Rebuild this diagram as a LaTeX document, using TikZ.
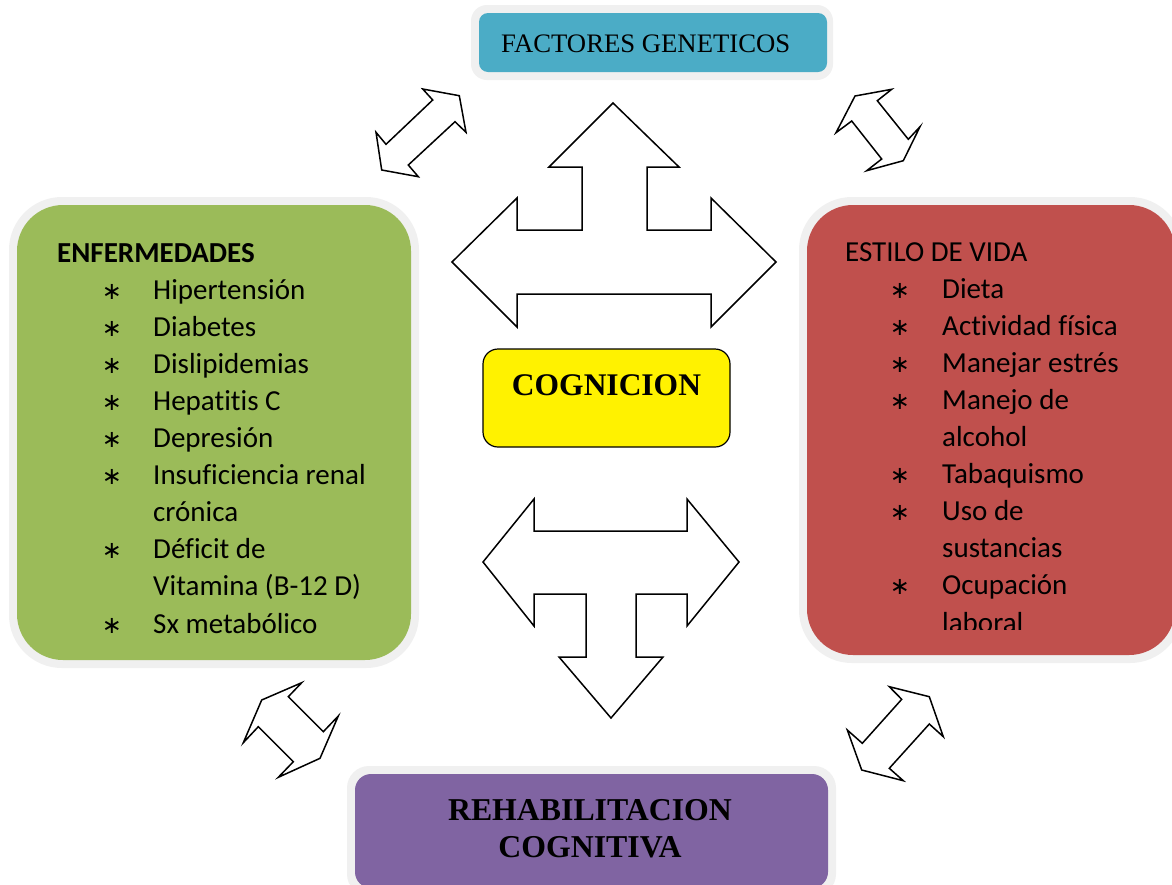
\documentclass[tikz,border=0pt]{standalone}
\usepackage{fontspec}
\setmainfont{Carlito}[RawFeature={-liga}]
\newfontfamily\tnr{Liberation Serif}
\newfontfamily\dejavu{DejaVu Sans}
\definecolor{teal1}{HTML}{4BACC6}
\definecolor{green1}{HTML}{9BBB59}
\definecolor{red1}{HTML}{C0504D}
\definecolor{purp1}{HTML}{8064A2}
\definecolor{halo}{HTML}{F0F0F0}
\begin{document}
\begin{tikzpicture}[x=1pt,y=-1pt,
  arrowshape/.style={draw=black, fill=white, line width=1.5pt, line join=miter},
  txt/.style={anchor=base west, inner sep=0pt, font=\fontsize{29}{34}\selectfont},
  hdr/.style={anchor=base west, inner sep=0pt, font=\fontsize{29}{34}\selectfont},
  bul/.style={anchor=base, inner sep=0pt, font=\dejavu\fontsize{24}{30}\selectfont}]
\useasboundingbox (0,0) rectangle (1172,884);
\fill[white] (0,0) rectangle (1172,884);

% FACTORES GENETICOS
\fill[halo, rounded corners=16pt] (471,5) rectangle (833,80);
\fill[teal1, rounded corners=9pt] (479,13) rectangle (827,72);
\node[anchor=base west, inner sep=0pt, font=\tnr\fontsize{26.7}{30}\selectfont] (fg) at (501,52) {FACTORES GENETICOS};

% ENFERMEDADES box
\fill[halo, rounded corners=53pt] (9,197) rectangle (419,668);
\fill[green1, rounded corners=46pt] (17,205) rectangle (411,660);

% ESTILO DE VIDA box
\fill[halo, rounded corners=53pt] (799,197) rectangle (1183,663);
\fill[red1, rounded corners=46pt] (807,205) rectangle (1175,655);

% REHABILITACION box
\fill[halo, rounded corners=22pt] (347,766) rectangle (836,896);
\fill[purp1, rounded corners=16pt] (355,774) rectangle (828,888);

% COGNICION
\node[draw=black, line width=1.2pt, fill=yellow, rounded corners=15pt, minimum width=247pt, minimum height=98pt, inner sep=0pt] (cog) at (606.5,398) {};
\node[anchor=base, inner sep=0pt, font=\tnr\bfseries\fontsize{31.5}{36}\selectfont] (cogt) at (606.5,395) {COGNICION};

% REHABILITACION text
\node[anchor=base, inner sep=0pt, font=\tnr\bfseries\fontsize{31.8}{36}\selectfont] (reh1) at (590,820) {REHABILITACION};
\node[anchor=base, inner sep=0pt, font=\tnr\bfseries\fontsize{31.8}{36}\selectfont] (reh2) at (590,857) {COGNITIVA};

% big arrows
\draw[arrowshape] (613,103) -- (679,167) -- (647,167) -- (647,230) -- (711,230) -- (711,198) -- (776,262) -- (711,327) -- (711,294) -- (517,294) -- (517,327) -- (452,262) -- (517,198) -- (517,230) -- (582,230) -- (582,167) -- (549,167) -- cycle;
\draw[arrowshape] (534,499) -- (534,531) -- (687,531) -- (687,499) -- (739,562) -- (687,626) -- (687,594) -- (636,594) -- (636,657) -- (663,657) -- (611,718) -- (559,657) -- (586,657) -- (586,594) -- (534,594) -- (534,626) -- (483,562) -- cycle;

% diagonal arrows
\draw[arrowshape] (422.7,89) -- (459.3,95.7) -- (466,132.3) -- (455,121.7) -- (408.3,165) -- (418.3,176.7) -- (381.7,170) -- (376,132.3) -- (386,144.3) -- (432.7,100) -- cycle;
\draw[arrowshape] (855,96) -- (891.7,89.3) -- (877.3,100.7) -- (908.3,139.3) -- (920,126.7) -- (903.3,160.7) -- (866.7,170.7) -- (881.7,159) -- (851.7,121) -- (836,132.7) -- cycle;
\draw[arrowshape] (261.7,700) -- (301.7,682.7) -- (288.3,696.7) -- (323.3,731.7) -- (338.3,716) -- (320,758.3) -- (278.3,777.3) -- (293.3,761.7) -- (258.3,726.7) -- (243.3,742.7) -- cycle;
\draw[arrowshape] (889.3,686.7) -- (929.3,696.7) -- (943.3,736.7) -- (929.3,724) -- (889.3,768.3) -- (903.3,780.7) -- (861.7,770) -- (847.3,730) -- (862.3,743.3) -- (901.7,699.3) -- cycle;

% left list
\node[hdr, font=\bfseries\fontsize{29}{34}\selectfont] (eh) at (57,262) {ENFERMEDADES};
\node[bul] (eb1) at (112,299.1) {∗};
\node[txt] (e1) at (153,299.1) {Hipertensión};
\node[bul] (eb2) at (112,336.2) {∗};
\node[txt] (e2) at (153,336.2) {Diabetes};
\node[bul] (eb3) at (112,373.3) {∗};
\node[txt] (e3) at (153,373.3) {Dislipidemias};
\node[bul] (eb4) at (112,410.4) {∗};
\node[txt] (e4) at (153,410.4) {Hepatitis C};
\node[bul] (eb5) at (112,447.5) {∗};
\node[txt] (e5) at (153,447.5) {Depresión};
\node[bul] (eb6) at (112,484.6) {∗};
\node[txt] (e6) at (153,484.6) {Insuficiencia renal};
\node[txt] (e7) at (153,521.7) {crónica};
\node[bul] (eb8) at (112,558.8) {∗};
\node[txt] (e8) at (153,558.8) {Déficit de};
\node[txt] (e9) at (153,595.9) {Vitamina (B-12 D)};
\node[bul] (eb10) at (112,633) {∗};
\node[txt] (e10) at (153,633) {Sx metabólico};

% right list
\node[hdr] (vh) at (845,261) {ESTILO DE VIDA};
\node[bul] (vb1) at (900,298.1) {∗};
\node[txt] (v1) at (942,298.1) {Dieta};
\node[bul] (vb2) at (900,335.2) {∗};
\node[txt] (v2) at (942,335.2) {Actividad física};
\node[bul] (vb3) at (900,372.3) {∗};
\node[txt] (v3) at (942,372.3) {Manejar estrés};
\node[bul] (vb4) at (900,409.4) {∗};
\node[txt] (v4) at (942,409.4) {Manejo de};
\node[txt] (v5) at (942,446.5) {alcohol};
\node[bul] (vb6) at (900,483.6) {∗};
\node[txt] (v6) at (942,483.6) {Tabaquismo};
\node[bul] (vb7) at (900,520.7) {∗};
\node[txt] (v7) at (942,520.7) {Uso de};
\node[txt] (v8) at (942,557.8) {sustancias};
\node[bul] (vb9) at (900,594.9) {∗};
\node[txt] (v9) at (942,594.9) {Ocupación};
\begin{scope}
\clip (800,600) rectangle (1172,629.5);
\node[txt] (v10) at (942,632) {laboral};
\end{scope}
\end{tikzpicture}
\end{document}
